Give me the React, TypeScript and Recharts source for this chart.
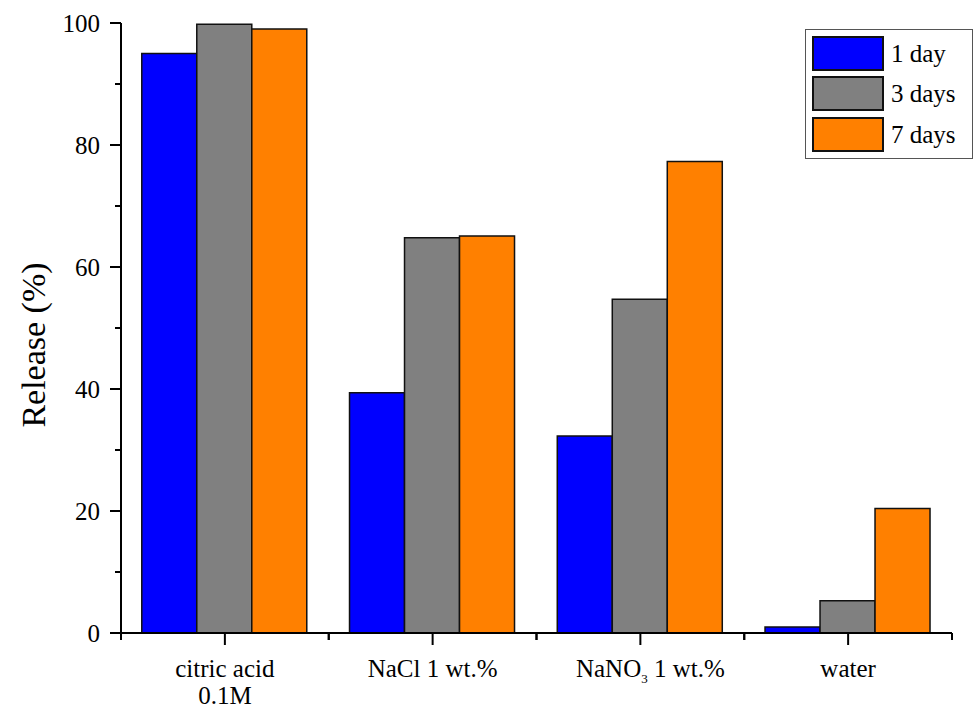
import { BarChart, Bar, XAxis, YAxis } from 'recharts';

const categories = ['citric acid|0.1M', 'NaCl 1 wt.%', 'NaNO3 1 wt.%', 'water'];
const oneDay = [95.0, 39.4, 32.3, 1.0];
const threeDays = [99.8, 64.8, 54.7, 5.3];
const sevenDays = [99.0, 65.1, 77.3, 20.4];
const yTicks = [0, 10, 20, 30, 40, 50, 60, 70, 80, 90, 100];

const seriesNames = ['1 day', '3 days', '7 days'];
const seriesColors = ['#0000ff', '#808080', '#ff8000'];

const data = categories.map((name, i) => ({
  name,
  d1: oneDay[i],
  d3: threeDays[i],
  d7: sevenDays[i],
}));

const FONT = "'Liberation Serif', 'Times New Roman', Times, serif";
const txt = { fontFamily: FONT, fontSize: 25 };

const W = 975;
const H = 710;
const xAxisHeight = 30;
const margin = { top: 23, right: 23, bottom: 77 - xAxisHeight, left: 0 };
const yAxisWidth = 121;

const YTick = (props: any) => {
  const { x, y, payload } = props;
  const major = payload.value % 20 === 0;
  return (
    <g>
      <line x1={x - (major ? 11 : 6)} x2={x} y1={y} y2={y} stroke="#000" strokeWidth={2} />
      {major && (
        <text x={x - 21} y={y} dy="0.35em" textAnchor="end" style={txt} fill="#000">
          {payload.value}
        </text>
      )}
    </g>
  );
};

const plotWidth = W - yAxisWidth - margin.right;
const halfBand = plotWidth / categories.length / 2;

const XTick = (props: any) => {
  const { x, y, payload } = props;
  const label: string = payload.value;
  let content;
  if (label.startsWith('NaNO3')) {
    content = (
      <text x={x + 10} y={y + 44} textAnchor="middle" style={txt} fill="#000">
        NaNO<tspan style={{ fontSize: 13 }} dy={6}>3</tspan>
        <tspan dy={-6}> 1 wt.%</tspan>
      </text>
    );
  } else {
    const lines = label.split('|');
    content = (
      <text x={x} y={y + 44} textAnchor="middle" style={txt} fill="#000">
        {lines.map((l, i) => (
          <tspan key={i} x={x} dy={i === 0 ? 0 : 27}>
            {l}
          </tspan>
        ))}
      </text>
    );
  }
  return (
    <g>
      <line x1={x} x2={x} y1={y} y2={y + 12} stroke="#000" strokeWidth={2} />
      <line x1={x - halfBand} x2={x - halfBand} y1={y} y2={y + 7} stroke="#000" strokeWidth={2} />
      <line x1={x + halfBand} x2={x + halfBand} y1={y} y2={y + 7} stroke="#000" strokeWidth={2} />
      {content}
    </g>
  );
};

const YLabel = () => {
  const cx = 45;
  const cy = 345;
  return (
    <text
      x={cx}
      y={cy}
      transform={`rotate(-90, ${cx}, ${cy})`}
      textAnchor="middle"
      style={{ fontFamily: FONT, fontSize: 34 }}
      fill="#000"
    >
      Release (%)
    </text>
  );
};

const LegendBox = () => (
  <div
    style={{
      position: 'absolute',
      left: 805,
      top: 29,
      border: '1.5px solid #555',
      background: '#fff',
      width: 168,
      padding: '3px 0 3px 6px',
      boxSizing: 'border-box',
      fontFamily: FONT,
      fontSize: 25,
    }}
  >
    {seriesNames.map((n, i) => (
      <div key={n} style={{ display: 'flex', alignItems: 'center', height: 40.5 }}>
        <div
          style={{
            width: 72,
            height: 35,
            background: seriesColors[i],
            border: '2px solid #111',
            boxSizing: 'border-box',
          }}
        />
        <span style={{ marginLeft: 7, lineHeight: 1 }}>{n}</span>
      </div>
    ))}
  </div>
);

export default function App() {
  return (
    <div style={{ position: 'absolute', left: 0, top: 0, width: W, height: H, background: '#fff', fontFamily: FONT }}>
      <BarChart width={W} height={H} data={data} margin={margin} barCategoryGap="10%" barGap={0}>
        <XAxis
          dataKey="name"
          height={xAxisHeight}
          axisLine={{ stroke: '#000', strokeWidth: 2 }}
          tickLine={false}
          tickSize={0}
          tickMargin={0}
          tick={<XTick />}
          interval={0}
        />
        <YAxis
          width={yAxisWidth}
          domain={[0, 100]}
          ticks={yTicks}
          interval={0}
          axisLine={{ stroke: '#000', strokeWidth: 2 }}
          tickLine={false}
          tickSize={0}
          tickMargin={0}
          tick={<YTick />}
          label={<YLabel />}
        />
        <Bar dataKey="d1" name={seriesNames[0]} fill={seriesColors[0]} stroke="#111" strokeWidth={1.5} isAnimationActive={false} />
        <Bar dataKey="d3" name={seriesNames[1]} fill={seriesColors[1]} stroke="#111" strokeWidth={1.5} isAnimationActive={false} />
        <Bar dataKey="d7" name={seriesNames[2]} fill={seriesColors[2]} stroke="#111" strokeWidth={1.5} isAnimationActive={false} />
      </BarChart>
      <LegendBox />
    </div>
  );
}
